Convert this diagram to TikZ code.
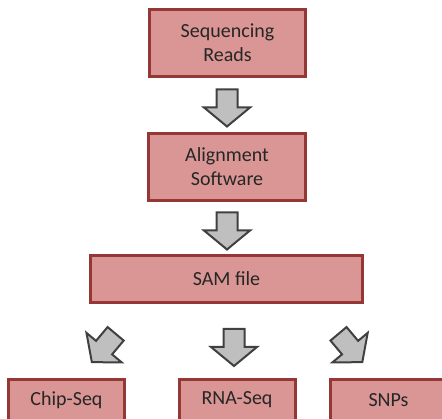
\documentclass[tikz,border=0pt]{standalone}
\usepackage{fontspec}
\setmainfont{Carlito}
\definecolor{boxfill}{HTML}{D99694}
\definecolor{boxline}{HTML}{953735}
\definecolor{arrfill}{HTML}{BFBFBF}
\definecolor{arrline}{HTML}{404040}
\definecolor{txtd}{HTML}{262626}

\begin{document}
\begin{tikzpicture}[x=1pt, y=1pt,
  box/.style={rectangle, fill=boxfill, draw=boxline, line width=3pt, inner sep=0pt,
              align=center, font=\fontsize{20}{24}\selectfont, text=txtd},
  blk/.style={fill=arrfill, draw=arrline, line width=2pt, line join=miter},
  barrow/.pic={\path[blk] (-10.5,18.5) -- (10.5,18.5) -- (10.5,0.5) -- (23,0.5) -- (0,-18.5)
                 -- (-23,0.5) -- (-10.5,0.5) -- cycle;},
]
\useasboundingbox (0,0) rectangle (442,419);
\clip (0,0) rectangle (442,419);
\node[box, minimum width=156, minimum height=67] (seq) at (227.5,376) {Sequencing\\Reads};
\node[box, minimum width=157, minimum height=67] (aln) at (227,252) {Alignment\\Software};
\node[box, minimum width=272, minimum height=47] (sam) at (226.5,140) {SAM file};
\node[box, minimum width=116, minimum height=41] (chip) at (66.5,19) {Chip-Seq};
\node[box, minimum width=116, minimum height=41] (rna) at (237,19) {RNA-Seq};
\node[box, minimum width=116, minimum height=41] (snp) at (388.5,19) {SNPs};
% block arrows between the stages
\pic at (227,311) {barrow};
\pic at (227,188) {barrow};
\pic at (234,71.5) {barrow};
\pic[rotate=-40] at (103.75,71) {barrow};
\pic[rotate=40] at (350.4,71) {barrow};
\end{tikzpicture}
\end{document}
